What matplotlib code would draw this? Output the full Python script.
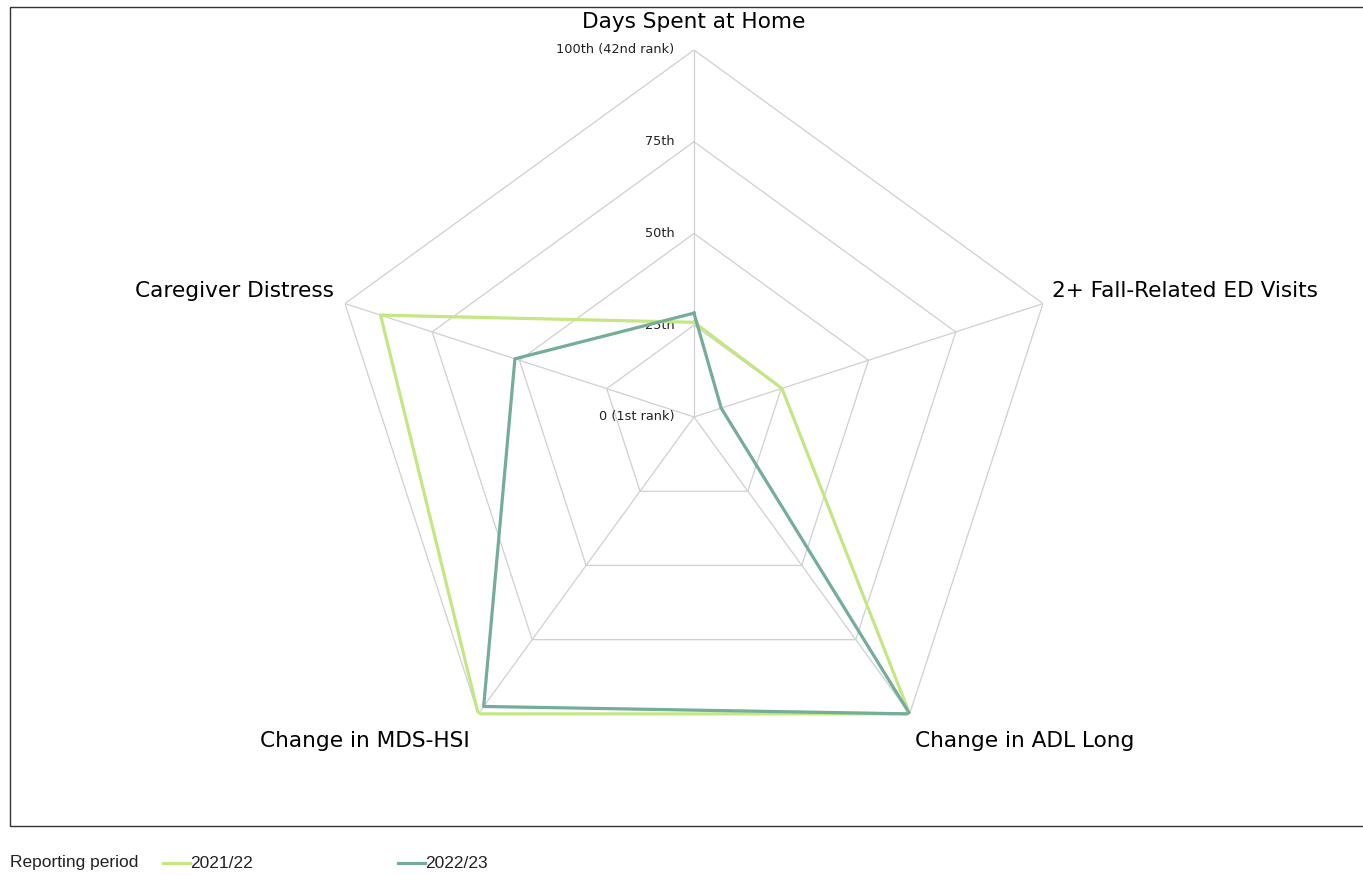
import numpy as np
import matplotlib
matplotlib.use('Agg')
import matplotlib.pyplot as plt
from matplotlib.patches import Rectangle
from matplotlib.lines import Line2D

#
# data
#
categories = ['Days Spent at Home', '2+ Fall-Related ED Visits', 'Change in ADL Long',
              'Change in MDS-HSI', 'Caregiver Distress']
periods = ['2021/22', '2022/23']
vals_2122 = [25.8, 25.2, 100.0, 100.0, 89.8]
vals_2223 = [28.3, 7.8, 100.0, 97.5, 51.3]
ring_vals = [0, 25, 50, 75, 100]
ring_labels = ['0 (1st rank)', '25th', '50th', '75th', '100th (42nd rank)']

col_2122 = '#c4e784'
col_2223 = '#74ad98'
gridcol = '#d0d0d0'


def main():
    fig = plt.figure(figsize=(13.63, 8.75), dpi=100)
    ax = fig.add_axes([0.2399, 0.104, 0.5385, 0.8389], projection='polar')
    ax.set_theta_zero_location('N')
    ax.set_theta_direction(-1)
    ax.set_ylim(0, 100)
    ax.set_axis_off()

    n = len(categories)
    theta = np.linspace(0, 2 * np.pi, n, endpoint=False)
    tc = np.append(theta, theta[0])

    #
    # pentagon grid and spokes
    #
    for rv in ring_vals[1:]:
        ax.plot(tc, [rv] * (n + 1), color=gridcol, lw=0.9, zorder=1)
    for t in theta:
        ax.plot([t, t], [0, 100], color=gridcol, lw=0.9, zorder=1)

    # ring labels
    for rv, lab in zip(ring_vals, ring_labels):
        ax.annotate(lab, xy=(0, rv), xytext=(-14, 0), textcoords='offset points',
                    ha='right', va='center', fontsize=9.3, family='DejaVu Sans',
                    color='#222222', zorder=2)

    # series
    for vals, col, lab in [(vals_2122, col_2122, periods[0]), (vals_2223, col_2223, periods[1])]:
        ax.plot(tc, vals + vals[:1], color=col, lw=2.3, label=lab, zorder=3)

    # category labels
    offs = [((0, 20), 'center'), ((6.5, 9.4), 'left'), ((3.6, -19.4), 'left'),
            ((-5.8, -19.4), 'right'), ((-8, 9.4), 'right')]
    for t, lab, (off, ha) in zip(theta, categories, offs):
        ax.annotate(lab, xy=(t, 100), xytext=off, textcoords='offset points',
                    ha=ha, va='center', fontsize=15.6, family='DejaVu Sans', color='black')

    # plot area frame
    fig.patches.append(Rectangle((10 / 1363, 1 - 826 / 875), 1.0, 819 / 875,
                                 transform=fig.transFigure, fill=False,
                                 edgecolor='#333333', lw=1))

    #
    # legend, laid out by hand
    #
    ly = 1 - 863 / 875
    fig.text(10 / 1363, ly, 'Reporting period', fontsize=12.5,
             family='Liberation Sans', va='center', ha='left', color='#222222')
    for lab, col, x0 in [(periods[0], col_2122, 163), (periods[1], col_2223, 398)]:
        fig.lines.append(Line2D([x0 / 1363, (x0 + 27) / 1363], [ly, ly], color=col, lw=2.3,
                                transform=fig.transFigure))
        fig.text((x0 + 27) / 1363, ly, lab, fontsize=12.5, family='Liberation Sans',
                 va='center', ha='left', color='#222222')

    plt.savefig('out.png', dpi=100)


main()
